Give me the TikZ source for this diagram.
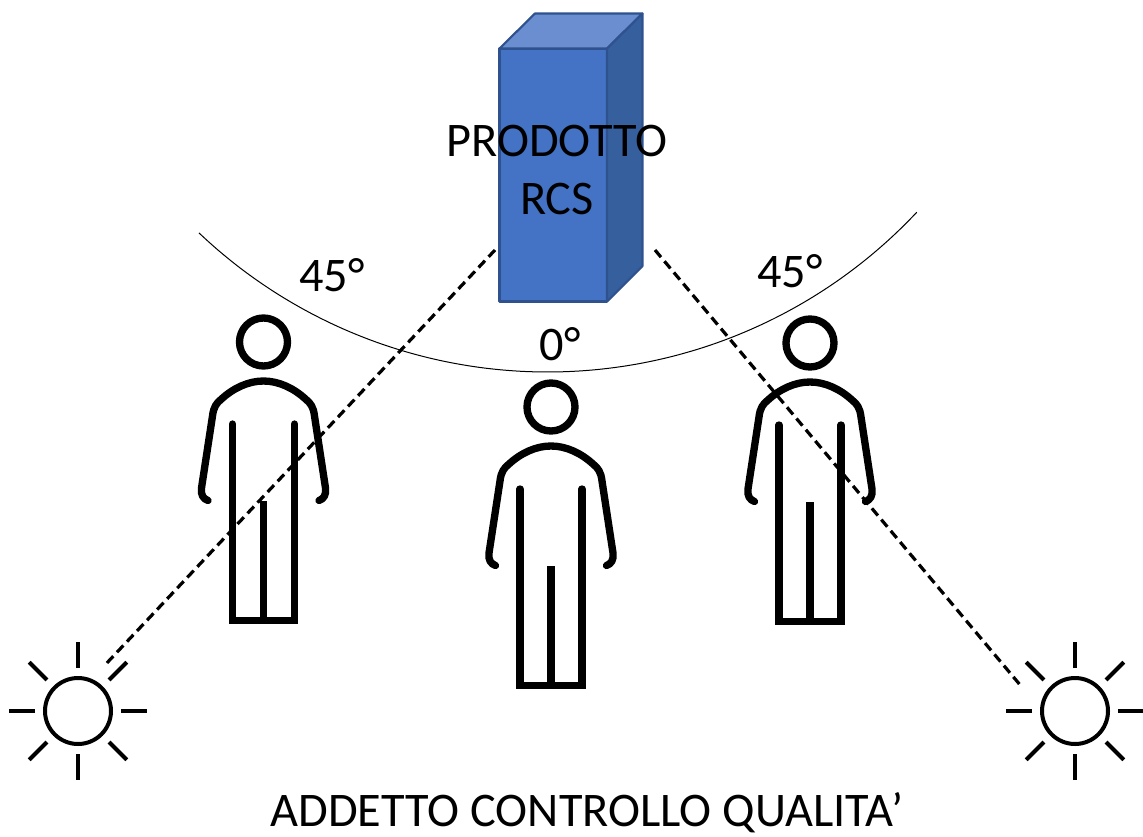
\documentclass[tikz,border=0pt]{standalone}
\usepackage{fontspec}
\setmainfont{Carlito}
\definecolor{cubefront}{HTML}{4472C4}
\definecolor{cubetop}{HTML}{6A8ED0}
\definecolor{cubeside}{HTML}{365F9D}
\definecolor{cubeedge}{HTML}{2F528F}
\tikzset{
  lbl/.style={inner sep=0pt,anchor=base,font=\fontsize{36.2pt}{36.2pt}\selectfont,text=black},
  cubeface/.style={draw=cubeedge,line width=1.6pt,line join=round},
  figline/.style={draw=black,line width=5.5pt,line cap=round,line join=round},
  figbox/.style={draw=black,line width=5.5pt,line cap=butt,line join=miter},
  sunline/.style={draw=black,line width=3pt},
  sightline/.style={draw=black,line width=2.4pt,dash pattern=on 7pt off 4pt},
  personfig/.pic={
    \draw[figline] (0,0) circle[radius=24];
    \draw[figline] (-55.5,158.5) .. controls (-60,157) and (-63,153) .. (-62,146)
      -- (-51,74) .. controls (-50,65) and (-47,61) .. (-42,57)
      .. controls (-30,46) and (-15,39) .. (0,39)
      .. controls (15,39) and (30,46) .. (42,57)
      .. controls (47,61) and (50,65) .. (51,74)
      -- (62,146) .. controls (63,153) and (60,157) .. (55.5,158.5);
    \draw[figline] (-31,82) -- (-31,150);
    \draw[figline] (31,82) -- (31,150);
    \draw[figbox] (-31,150) -- (-31,278.5) -- (31,278.5) -- (31,150);
    \draw[figbox] (0,159) -- (0,278.5);
  },
  sunfig/.pic={
    \draw[draw=black,line width=3pt] (0,0) circle[radius=33];
    \foreach \a in {0,90,180,270}
      \draw[sunline] (\a:43) -- (\a:69);
    \foreach \a in {45,135,225,315}
      \draw[sunline] (\a:44) -- (\a:69);
  }
}
\begin{document}
\begin{tikzpicture}[x=0.75pt,y=-0.75pt]
\useasboundingbox (0,0) rectangle (1143,836);
% product box
\filldraw[cubeface,fill=cubefront] (499.5,48.5) rectangle (607,301.5);
\filldraw[cubeface,fill=cubetop] (499.5,48.5) -- (535,13.5) -- (642.5,13.5) -- (607,48.5) -- cycle;
\filldraw[cubeface,fill=cubeside] (607,48.5) -- (642.5,13.5) -- (642.5,266) -- (607,301.5) -- cycle;
% viewing arc
\draw[black,line width=0.75pt] plot[samples=70,domain=226.5:316.8,smooth] ({547.6+506.5*cos(\x)},{-134.5-506.5*sin(\x)});
% people
\pic at (263.5,342) {personfig};
\pic at (551,407) {personfig};
\pic at (810,343) {personfig};
% lights
\pic at (78,711) {sunfig};
\pic at (1075,711) {sunfig};
% sight lines
\coordinate (leftproduct) at (495,250);
\coordinate (leftlight) at (105,665);
\coordinate (rightproduct) at (655,250);
\coordinate (rightlight) at (1021,686);
\draw[sightline] (leftproduct) -- (leftlight);
\draw[sightline] (rightproduct) -- (rightlight);
% labels
\node[lbl] (prod) at (557,156) {PRODOTTO};
\node[lbl] (rcs) at (557,214) {RCS};
\node[lbl] (aleft) at (332,291) {45°};
\node[lbl] (aright) at (790,287) {45°};
\node[lbl] (azero) at (560,360) {0°};
\node[lbl] (caption) at (587,826) {ADDETTO CONTROLLO QUALITA’};
\end{tikzpicture}
\end{document}
